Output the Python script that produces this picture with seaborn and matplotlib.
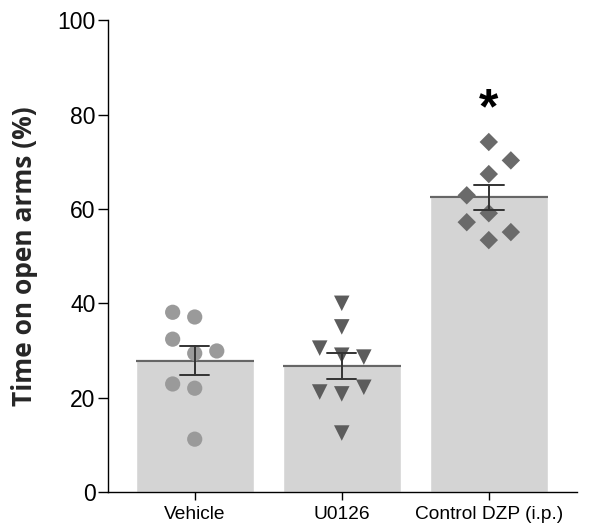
import matplotlib
matplotlib.use("Agg")
import matplotlib.pyplot as plt
import seaborn as sns
import pandas as pd
import numpy as np

# ---- data ----
groups = ["Vehicle", "U0126", "Control DZP (i.p.)"]
vehicle = [38.1, 37.1, 32.4, 29.9, 29.4, 22.9, 22.0, 11.2]
u0126 = [40.0, 35.0, 30.5, 29.0, 28.6, 21.2, 20.8, 22.2, 12.5]
dzp = [74.2, 70.3, 67.4, 62.9, 59.1, 57.2, 55.1, 53.4]
yticks = [0, 20, 40, 60, 80, 100]
ylabel = "Time on open arms (%)"
signif = ["", "", "*"]

# ---- layout / style (not data) ----
offsets = [
    [-0.15, 0.0, -0.15, 0.15, 0.0, -0.15, 0.0, 0.0],
    [0.0, 0.0, -0.15, 0.0, 0.15, -0.15, 0.0, 0.15, 0.0],
    [0.0, 0.15, 0.0, -0.15, 0.0, -0.15, 0.15, 0.0],
]
markers = ["o", "v", "D"]
mcolors = ["#9a9a9a", "#5c5c5c", "#6a6a6a"]
msizes = [120, 125, 88]

values = [vehicle, u0126, dzp]
df = pd.DataFrame({
    "group": np.concatenate([[g] * len(v) for g, v in zip(groups, values)]),
    "value": np.concatenate(values),
})

sns.set_style("ticks")
plt.rcParams["font.family"] = ["Liberation Sans", "DejaVu Sans"]

fig = plt.figure(figsize=(5.9, 5.3), dpi=100)
ax = fig.add_axes([0.183, 0.0717, 0.795, 0.890])

sns.barplot(data=df, x="group", y="value", order=groups, errorbar="se",
            capsize=0.2, color="#d4d4d4", saturation=1, width=0.8,
            err_kws={"color": "#333333", "linewidth": 1.4}, ax=ax)
for ln in ax.lines:
    ln.set_zorder(5)

# mean line on top of each bar
for p in ax.patches:
    x0 = p.get_x()
    w = p.get_width()
    h = p.get_height()
    ax.plot([x0, x0 + w], [h, h], color="#666666", lw=1.6, zorder=3,
            solid_capstyle="butt")

for i, (vals, offs) in enumerate(zip(values, offsets)):
    ax.scatter(np.array(offs) + i, vals, marker=markers[i], s=msizes[i],
               color=mcolors[i], edgecolors="none", zorder=4)

for i, s in enumerate(signif):
    if s:
        ax.text(i, 76, s, ha="center", va="bottom", fontsize=36,
                fontweight="bold", color="black")

ax.set_xlim(-0.59, 2.6)
ax.set_ylim(0, 100)
ax.set_yticks(yticks)
ax.set_yticklabels([str(t) for t in yticks], fontsize=16.5)
ax.set_xticks(range(len(groups)))
ax.set_xticklabels(groups, fontsize=13.8)
ax.set_xlabel("")
ax.set_ylabel(ylabel, fontsize=19, fontweight="bold",
              family=["Open Sans", "DejaVu Sans"], labelpad=14)
ax.tick_params(axis="y", length=7, width=1, pad=2, colors="black")
ax.tick_params(axis="x", length=6, width=1, pad=4, colors="black")
sns.despine(ax=ax)
for sp in ["left", "bottom"]:
    ax.spines[sp].set_linewidth(1.0)
    ax.spines[sp].set_color("black")

fig.savefig("out.png", dpi=100)
